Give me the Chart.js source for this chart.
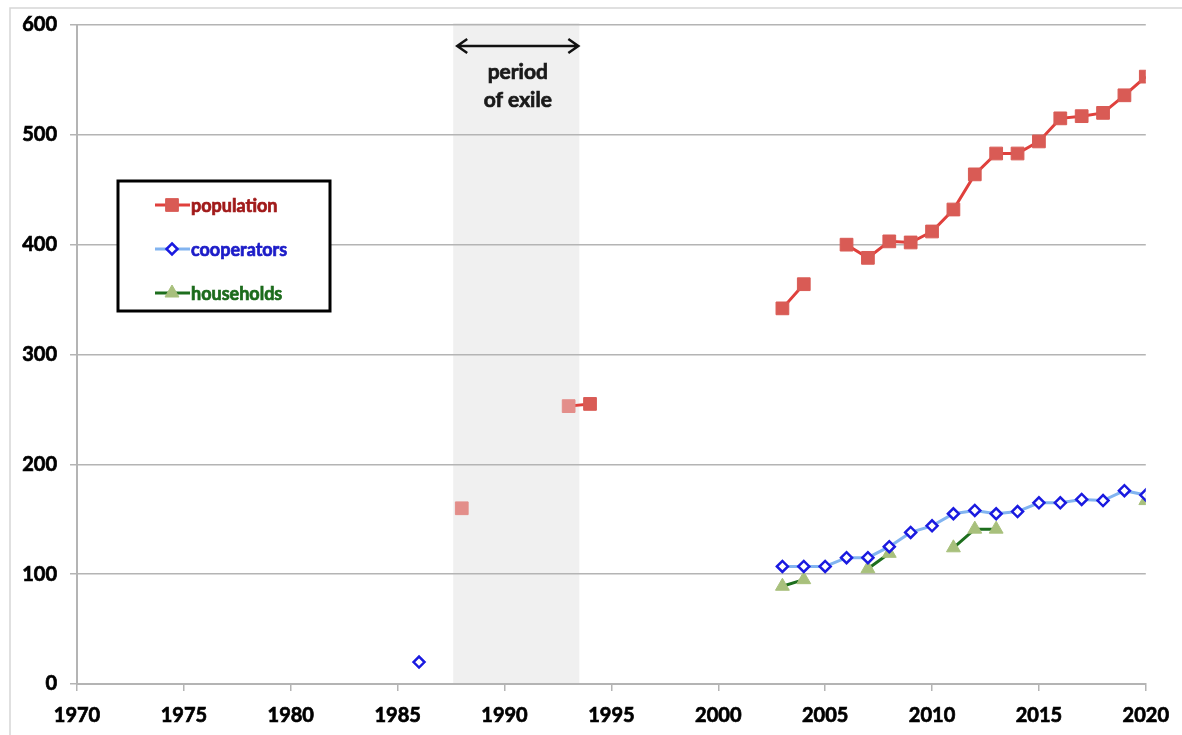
<!DOCTYPE html>
<html>
<head>
<meta charset="utf-8">
<script src="https://cdn.jsdelivr.net/npm/chart.js"></script>
<style>
  html, body { margin: 0; padding: 0; background: #fff; }
  #wrap { width: 1182px; height: 735px; position: relative; }
</style>
</head>
<body>
<div id="wrap"><canvas id="chart" width="1182" height="735"></canvas></div>
<script>
// values, one entry per year (null = no data)
const years = [1986, 1987, 1988, 1989, 1990, 1991, 1992, 1993, 1994, 1995, 1996, 1997,
  1998, 1999, 2000, 2001, 2002, 2003, 2004, 2005, 2006, 2007, 2008, 2009, 2010,
  2011, 2012, 2013, 2014, 2015, 2016, 2017, 2018, 2019, 2020];
const population = [null, null, 160, null, null, null, null, 253, 255, null, null, null,
  null, null, null, null, null, 342, 364, null, 400, 388, 403, 402, 412,
  432, 464, 483, 483, 494, 515, 517, 520, 536, 553];
const cooperators = [20, null, null, null, null, null, null, null, null, null, null, null,
  null, null, null, null, null, 107, 107, 107, 115, 115, 125, 138, 144,
  155, 158, 155, 157, 165, 165, 168, 167, 176, 172];
const households = [null, null, null, null, null, null, null, null, null, null, null, null,
  null, null, null, null, null, 89, 95, null, null, 105, 119, null, null,
  124, 141, 141, null, null, null, null, null, null, 167];
const fadedYears = [1988, 1993];     // estimates drawn in a paler red
const exilePeriod = [1987.6, 1993.5];
const xTicks = { min: 1970, max: 2020, step: 5 };
const yTicks = { min: 0, max: 600, step: 100 };

const FONT = 'Lato, "Open Sans", sans-serif';
const GRID = '#b4b4b4';

const toPoints = arr => years.map((yr, i) => ({ x: yr, y: arr[i] }));

const series = [
  { label: 'population', data: population, line: '#e0403c', fill: '#d95b55', stroke: '#d95b55',
    style: 'rect', radius: 9, text: '#a11a1a' },
  { label: 'cooperators', data: cooperators, line: '#82b4f0', fill: '#ffffff', stroke: '#1a1ae0',
    style: 'rectRot', radius: 5.5, text: '#1c1cc8' },
  { label: 'households', data: households, line: '#1d6e1d', fill: '#a8c07c', stroke: '#a8c07c',
    style: 'triangle', radius: 8, text: '#1c6b1c' }
];

// heavier bold text: fill plus a thin outline of the same colour
function boldText(ctx, str, x, y, color) {
  ctx.fillStyle = color;
  ctx.strokeStyle = color;
  ctx.lineWidth = 0.7;
  ctx.fillText(str, x, y);
  ctx.strokeText(str, x, y);
}

// grey band + frame, drawn under the grid
const backdrop = {
  id: 'backdrop',
  beforeDraw(chart) {
    const { ctx, chartArea, scales } = chart;
    ctx.save();
    ctx.fillStyle = '#f0f0f0';
    const x0 = scales.x.getPixelForValue(exilePeriod[0]);
    const x1 = scales.x.getPixelForValue(exilePeriod[1]);
    ctx.fillRect(x0, chartArea.top - 2, x1 - x0, chartArea.bottom - chartArea.top + 2);
    ctx.strokeStyle = '#d6d6d6';
    ctx.lineWidth = 1.5;
    ctx.beginPath();
    ctx.moveTo(10, 735);
    ctx.lineTo(10, 8);
    ctx.lineTo(1182, 8);
    ctx.stroke();
    ctx.restore();
  }
};

function marker(ctx, s, x, y) {
  ctx.save();
  ctx.fillStyle = s.fill;
  ctx.strokeStyle = s.stroke;
  ctx.lineWidth = s.style === 'rectRot' ? 2.5 : 1;
  ctx.beginPath();
  if (s.style === 'rect') {
    const h = s.radius * Math.SQRT1_2;
    ctx.rect(x - h, y - h, 2 * h, 2 * h);
  } else if (s.style === 'rectRot') {
    const r = s.radius;
    ctx.moveTo(x, y - r); ctx.lineTo(x + r, y); ctx.lineTo(x, y + r); ctx.lineTo(x - r, y);
    ctx.closePath();
  } else {
    const r = s.radius;
    ctx.moveTo(x, y - r); ctx.lineTo(x + r * 0.87, y + r * 0.5); ctx.lineTo(x - r * 0.87, y + r * 0.5);
    ctx.closePath();
  }
  ctx.fill();
  ctx.stroke();
  ctx.restore();
}

// legend box and the exile arrow
const overlay = {
  id: 'overlay',
  afterDraw(chart) {
    const { ctx, scales } = chart;
    ctx.save();
    ctx.fillStyle = '#fff';
    ctx.fillRect(118, 181, 212, 130);
    ctx.strokeStyle = '#000';
    ctx.lineWidth = 3;
    ctx.strokeRect(118, 181, 212, 130);
    series.forEach((s, i) => {
      const y = 205 + i * 44;
      ctx.strokeStyle = s.line;
      ctx.lineWidth = 3;
      ctx.beginPath();
      ctx.moveTo(155, y);
      ctx.lineTo(190, y);
      ctx.stroke();
      marker(ctx, s, 172, y);
      ctx.font = 'bold 18px ' + FONT;
      ctx.textBaseline = 'middle';
      ctx.textAlign = 'left';
      boldText(ctx, s.label, 191, y + 1, s.text);
    });

    const x0 = scales.x.getPixelForValue(exilePeriod[0]) + 4;
    const x1 = scales.x.getPixelForValue(exilePeriod[1]) - 1;
    const ay = 46;
    ctx.strokeStyle = '#111';
    ctx.lineWidth = 2.5;
    ctx.beginPath();
    ctx.moveTo(x0, ay); ctx.lineTo(x1, ay);
    ctx.moveTo(x0 + 10, ay - 7); ctx.lineTo(x0, ay); ctx.lineTo(x0 + 10, ay + 7);
    ctx.moveTo(x1 - 10, ay - 7); ctx.lineTo(x1, ay); ctx.lineTo(x1 - 10, ay + 7);
    ctx.stroke();
    const cx = (x0 + x1) / 2;
    ctx.font = 'bold 21px ' + FONT;
    ctx.textAlign = 'center';
    ctx.textBaseline = 'middle';
    boldText(ctx, 'period', cx, 72, '#1a1a1a');
    boldText(ctx, 'of exile', cx, 100, '#1a1a1a');
    ctx.restore();
  }
};

new Chart(document.getElementById('chart'), {
  type: 'line',
  data: {
    datasets: series.map(s => ({
      label: s.label,
      data: toPoints(s.data),
      borderColor: s.line,
      borderWidth: 3,
      pointStyle: s.style,
      pointRadius: s.radius,
      pointHoverRadius: s.radius,
      pointBackgroundColor: s.label === 'population'
        ? ctx => (ctx.raw && fadedYears.includes(ctx.raw.x) ? '#e38e8a' : s.fill)
        : s.fill,
      pointBorderColor: s.label === 'population'
        ? ctx => (ctx.raw && fadedYears.includes(ctx.raw.x) ? '#e38e8a' : s.stroke)
        : s.stroke,
      pointBorderWidth: s.style === 'rectRot' ? 2.5 : 1,
      spanGaps: false,
      tension: 0
    }))
  },
  options: {
    responsive: false,
    animation: false,
    layout: { padding: { top: 22, right: 31, bottom: 0, left: 0 } },
    plugins: { legend: { display: false }, tooltip: { enabled: false } },
    scales: {
      x: {
        type: 'linear',
        min: xTicks.min,
        max: xTicks.max,
        afterFit: sc => { sc.height = 51; },
        grid: { drawOnChartArea: false, drawTicks: true, tickLength: 7, color: GRID, lineWidth: 1.5 },
        border: { color: GRID, width: 2 },
        ticks: {
          stepSize: xTicks.step,
          padding: 13,
          color: '#000',
          textStrokeColor: '#000',
          textStrokeWidth: 0.7,
          font: { family: FONT, size: 20, weight: 'bold' },
          callback: v => String(v),
          maxRotation: 0
        }
      },
      y: {
        min: yTicks.min,
        max: yTicks.max,
        afterFit: sc => { sc.width = 77; },
        grid: { color: GRID, lineWidth: 1.5, drawTicks: true, tickLength: 7 },
        border: { color: GRID, width: 2 },
        ticks: {
          stepSize: yTicks.step,
          padding: 13,
          color: '#000',
          textStrokeColor: '#000',
          textStrokeWidth: 0.7,
          font: { family: FONT, size: 20, weight: 'bold' }
        }
      }
    }
  },
  plugins: [backdrop, overlay]
});
</script>
</body>
</html>
